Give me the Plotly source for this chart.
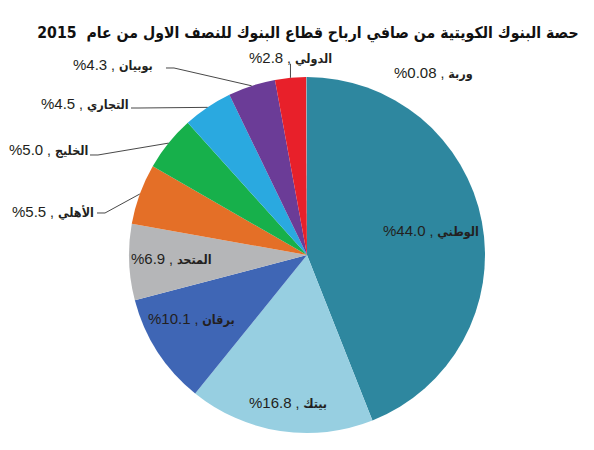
import math
import plotly.graph_objects as go

# ---------------- data ----------------
banks = ["الوطني", "بيتك", "برقان", "المتحد", "الأهلي", "الخليج", "التجاري", "بوبيان", "الدولي", "وربة"]
shares = [44.0, 16.8, 10.1, 6.9, 5.5, 5.0, 4.5, 4.3, 2.8, 0.08]
share_text = ["44.0", "16.8", "10.1", "6.9", "5.5", "5.0", "4.5", "4.3", "2.8", "0.08"]
title_text = "حصة البنوك الكويتية من صافي ارباح قطاع البنوك للنصف الاول من عام  2015"

# ---------------- style / layout ----------------
colors = ["#2e879f", "#97cfe1", "#3f66b5", "#b5b6b8", "#e46f27",
          "#17b04b", "#2aa9e0", "#6b3c97", "#e8202a", "#8fa3ad"]
W, H = 594, 450
CX, CY, R = 307, 255, 178
FONT = "Liberation Sans, Arial, DejaVu Sans Condensed, DejaVu Sans, sans-serif"
TFONT = "DejaVu Sans Condensed, DejaVu Sans, sans-serif"
TXT = "#231f20"

# inside labels: index -> (radius fraction, angle offset deg)
inside = {0: (0.71, -0.6), 1: (0.835, -1.5), 2: (0.74, 4.0), 3: (0.76, 1.0)}
# outside labels: index -> (text centre px, leader start px or None, style)
outside = {
    7: ((113, 64), (166, 68), "elbow"),
    8: ((290, 58), None, "vertical"),
    9: ((433, 72), None, "none"),
    6: ((85, 104), (131, 108), "elbow"),
    5: ((48, 150), (90, 155), "elbow"),
    4: ((53, 211), (97, 213), "elbow"),
}

def px2paper(x, y):
    return x / W, 1 - y / H

total = sum(shares)
mids = []
acc = 0.0
for v in shares:
    mids.append((acc + v / 2) / total * 360.0)
    acc += v

def polar(angle_deg, r):
    a = math.radians(angle_deg)
    return CX + r * math.sin(a), CY - r * math.cos(a)

fig = go.Figure(go.Pie(
    values=shares, labels=banks, sort=False, direction="clockwise", rotation=0,
    marker=dict(colors=colors, line=dict(width=0)),
    textinfo="none", hoverinfo="label+percent", showlegend=False,
    domain=dict(x=[(CX - R) / W, (CX + R) / W], y=[1 - (CY + R) / H, 1 - (CY - R) / H]),
))

def label_html(i):
    return (f"<span style='font-size:15px'>%{share_text[i]}</span> , "
            f"<b><span style='font-family:DejaVu Sans Condensed;font-size:12.5px'>{banks[i]}</span></b>")

annotations = []
shapes = []
for i, (rf, off) in inside.items():
    x, y = polar(mids[i] + off, rf * R)
    xp, yp = px2paper(x, y)
    annotations.append(dict(x=xp, y=yp, xref="paper", yref="paper", text=label_html(i),
                            showarrow=False, xanchor="center", yanchor="middle",
                            font=dict(family=FONT, size=14, color=TXT)))

for i, (tpos, lstart, style) in outside.items():
    ex, ey = polar(mids[i], R)
    xp, yp = px2paper(*tpos)
    annotations.append(dict(x=xp, y=yp, xref="paper", yref="paper", text=label_html(i),
                            showarrow=False, xanchor="center", yanchor="middle",
                            font=dict(family=FONT, size=14, color=TXT)))
    if style == "elbow":
        x0, y0 = lstart
        pts = [(x0, y0), (x0 + 8, y0), (ex, ey)]
    elif style == "vertical":
        pts = [(ex, ey - 14), (ex, ey)]
    else:
        continue
    path = ""
    for k, (px, py) in enumerate(pts):
        a, b = px2paper(px, py)
        path += ("M" if k == 0 else " L") + f" {a:.5f} {b:.5f}"
    shapes.append(dict(type="path", path=path, xref="paper", yref="paper",
                       line=dict(color="#333333", width=0.9)))

fig.update_layout(
    width=W, height=H, autosize=False,
    margin=dict(l=0, r=0, t=0, b=0),
    paper_bgcolor="white", plot_bgcolor="white",
    title=dict(text=f"<b>{title_text}</b>", x=308 / W, y=1 - 33 / H,
               xanchor="center", yanchor="middle",
               font=dict(family=TFONT, size=15.7, color="#111111")),
    annotations=annotations, shapes=shapes,
)

fig.write_html("out.html")
